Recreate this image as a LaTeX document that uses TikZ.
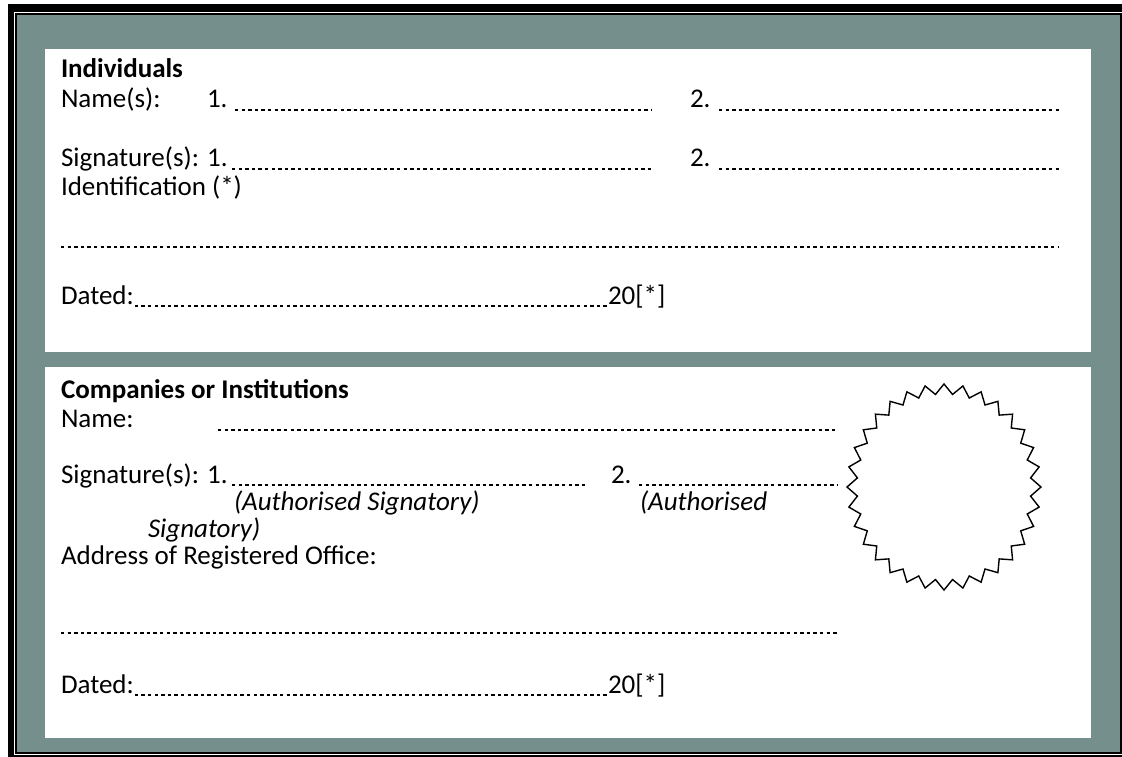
\documentclass[tikz,border=0pt]{standalone}
\usepackage{fontspec}
\setmainfont{Carlito}
\usetikzlibrary{calc}
\definecolor{framegray}{RGB}{117,143,140}
\begin{document}
\begin{tikzpicture}[x=1pt,y=-1pt,
  txt/.style={anchor=base west, inner sep=0pt, outer sep=0pt, font=\fontsize{27}{32}\selectfont},
  hd/.style={txt, font=\fontsize{27}{32}\selectfont\bfseries},
  itx/.style={txt, font=\fontsize{27}{32}\selectfont\itshape},
  dotline/.style={line width=1.6pt, dash pattern=on 3.3pt off 3.3pt},
  sealline/.style={line width=1.4pt, line join=miter}]
\useasboundingbox (0,0) rectangle (1122,757);
\fill[white] (0,0) rectangle (1122,757);
% double frame
\fill[black] (8,4.5) rectangle (1135,12);
\fill[black] (8,4.5) rectangle (14,770);
\fill[black] (8,754.5) rectangle (1135,770);
\draw[line width=1.5pt] (16.2,14.2) rectangle (1120.8,752.8);
\fill[framegray] (17,15) rectangle (1120,752);
% panels
\fill[white] (45,49) rectangle (1091,352);
\fill[white] (45,367) rectangle (1091,738);

% ---------- Individuals ----------
\node[hd] (ind) at (61,78) {Individuals};
\node[txt] (nm) at (61,108) {Name(s):};
\node[txt] (nm1) at (207,108) {1.};
\node[txt] (nm2) at (690,108) {2.};
\coordinate (nmA) at (235,110); \coordinate (nmB) at (652,110);
\coordinate (nmC) at (719,110); \coordinate (nmD) at (1060,110);
\draw[dotline] (nmA) -- (nmB);
\draw[dotline] (nmC) -- (nmD);

\node[txt] (sg) at (61,167) {Signature(s): 1.};
\node[txt] (sg2) at (690,167) {2.};
\coordinate (sgA) at (232,169); \coordinate (sgB) at (652,169);
\coordinate (sgC) at (719,169); \coordinate (sgD) at (1060,169);
\draw[dotline] (sgA) -- (sgB);
\draw[dotline] (sgC) -- (sgD);

\node[txt] (id) at (61,196) {Identification (*)};
\coordinate (idA) at (61,247); \coordinate (idB) at (1058,247);
\draw[dotline] (idA) -- (idB);

\node[txt] (dt) at (61,304) {Dated:};
\node[txt] (yr) at (608,304) {20[*]};
\draw[dotline] ($(dt.base east)+(1,2)$) -- ($(yr.base west)+(-1,2)$);

% ---------- Companies ----------
\node[hd] (co) at (61,398) {Companies or Institutions};
\node[txt] (cn) at (61,427) {Name:};
\coordinate (cnA) at (218,430); \coordinate (cnB) at (838,430);
\draw[dotline] (cnA) -- (cnB);

\node[txt] (cs) at (61,483) {Signature(s): 1.};
\node[txt] (cs2) at (611,483) {2.};
\coordinate (csA) at (232,485); \coordinate (csB) at (585,485);
\coordinate (csC) at (639,485); \coordinate (csD) at (838,485);
\draw[dotline] (csA) -- (csB);
\draw[dotline] (csC) -- (csD);
\node[itx] (au1) at (234,510) {(Authorised Signatory)};
\node[itx] (au2) at (640,510) {(Authorised};
\node[itx] (au3) at (148,537) {Signatory)};
\node[txt] (ad) at (61,564) {Address of Registered Office:};
\coordinate (adA) at (61,633); \coordinate (adB) at (838,633);
\draw[dotline] (adA) -- (adB);

\node[txt] (cd) at (61,693) {Dated:};
\node[txt] (cy) at (608,693) {20[*]};
\draw[dotline] ($(cd.base east)+(1,2)$) -- ($(cy.base west)+(-1,2)$);

% ---------- seal ----------
\begin{scope}[shift={(944,487)}]
\draw[sealline] ({97*cos(0)},{103*sin(0)})
  \foreach \i in {1,...,32} {
    -- ({87*cos((\i-0.5)*360/32)},{93*sin((\i-0.5)*360/32)})
    -- ({97*cos(\i*360/32)},{103*sin(\i*360/32)})
  } -- cycle;
\end{scope}
\end{tikzpicture}
\end{document}
